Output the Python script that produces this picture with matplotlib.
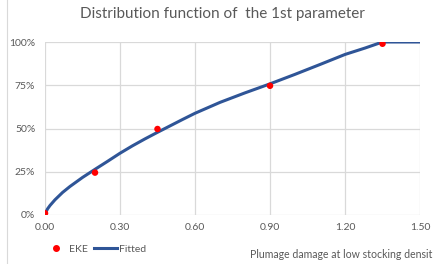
import matplotlib
matplotlib.use("Agg")
import matplotlib.pyplot as plt
from matplotlib.lines import Line2D

title = "Distribution function of  the 1st parameter"
xlabel = "Plumage damage at low stocking densit"
xticks = [0.00, 0.30, 0.60, 0.90, 1.20, 1.50]
yticks = [0.0, 0.25, 0.50, 0.75, 1.0]

eke_x = [0.00, 0.20, 0.45, 0.90, 1.35]
eke_y = [0.01, 0.245, 0.497, 0.747, 0.99]

fit_x = [0.00, 0.005, 0.01, 0.02, 0.04, 0.07, 0.10, 0.15, 0.20, 0.25, 0.30, 0.35, 0.40, 0.45,
         0.50, 0.55, 0.60, 0.70, 0.80, 0.90, 1.00, 1.10, 1.20, 1.28, 1.35, 1.50]
fit_y = [0.00, 0.02, 0.035, 0.055, 0.088, 0.13, 0.165, 0.217, 0.264, 0.31, 0.357, 0.40, 0.44, 0.478,
         0.515, 0.552, 0.588, 0.651, 0.706, 0.758, 0.813, 0.87, 0.928, 0.965, 1.0, 1.0]

plt.rcParams['font.family'] = ['Lato', 'DejaVu Sans']
gray = '#595959'

fig = plt.figure(figsize=(4.35, 2.64), dpi=100)
ax = fig.add_axes([45/435, 1-215/264, 375/435, 173/264])

ax.plot(fit_x, fit_y, color='#2f5597', lw=2.2, zorder=2, solid_capstyle='butt', solid_joinstyle='round')
ax.scatter(eke_x, eke_y, color='#ff0000', s=22, zorder=3, edgecolors='none')

ax.set_xlim(0, 1.5)
ax.set_ylim(0, 1.0)
ax.set_xticks(xticks)
ax.set_xticklabels([f"{v:.2f}" for v in xticks])
ax.set_yticks(yticks)
ax.set_yticklabels([f"{int(round(v*100))}%" for v in yticks])
ax.grid(True, color='#d9d9d9', lw=0.9)
ax.set_axisbelow(True)
for s in ax.spines.values():
    s.set_visible(False)
ax.tick_params(length=0, labelsize=7.5, labelcolor=gray, pad=6)
ax.tick_params(axis='y', pad=7)

fig.text(222/435, 1-14/264, title, ha='center', va='center', fontsize=11, color=gray)
fig.text(250/435, 1-254/264, xlabel, ha='left', va='center', fontsize=7.6, color=gray)

handles = [Line2D([], [], marker='o', color='#ff0000', ls='none', markersize=4),
           Line2D([], [], color='#2f5597', lw=2.2)]
fig.legend(handles, ['EKE', 'Fitted'], loc='center left', bbox_to_anchor=(40/435, 1-249/264),
           ncol=2, frameon=False, fontsize=7.5, labelcolor=gray, handlelength=2.2,
           handletextpad=0.2, columnspacing=0.6, borderaxespad=0)

fig.add_artist(Line2D([7/435, 7/435], [0, 1], transform=fig.transFigure, color='#d9d9d9', lw=0.8))

fig.savefig('out.png', dpi=100)
